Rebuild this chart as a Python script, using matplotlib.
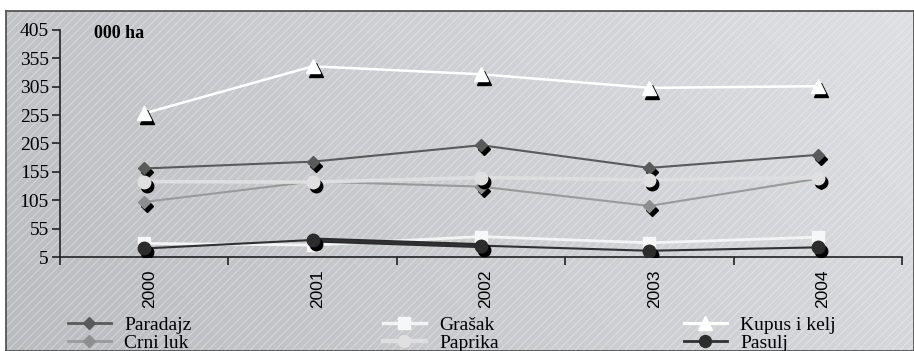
import matplotlib
matplotlib.use("Agg")
import matplotlib.pyplot as plt
import numpy as np
from matplotlib.lines import Line2D
from matplotlib.patches import Rectangle
from matplotlib.transforms import offset_copy, ScaledTranslation

years = ["2000", "2001", "2002", "2003", "2004"]
paradajz = [161, 173, 202, 162, 185]
crni_luk = [102, 138, 129, 95, 143]
grasak = [29, 26, 41, 30, 40]
paprika = [138, 137, 145, 141, 145]
kupus = [258, 341, 327, 303, 306]
pasulj = [20, 35, 25, 16, 22]

yticks = list(range(5, 406, 50))

# name, values, line color, marker, marker color, line width, marker size, shadow
series = [
    ("Paradajz", paradajz, "#5a5a5a", "D", "#5a5a5a", 1.5, 6.5, True),
    ("Crni luk", crni_luk, "#9a9a9a", "D", "#8e8e8e", 1.5, 6.5, True),
    ("Grašak", grasak, "#f4f4f4", "s", "#f7f7f7", 2.0, 8.5, False),
    ("Paprika", paprika, "#dedede", "o", "#e0e0e0", 2.6, 9.0, True),
    ("Kupus i kelj", kupus, "#ffffff", "^", "#ffffff", 1.8, 10.5, True),
    ("Pasulj", pasulj, "#303030", "o", "#2c2c2c", 1.5, 9.0, True),
]

plt.rcParams["hatch.linewidth"] = 0.7

fig = plt.figure(figsize=(9.14, 3.51), dpi=100, facecolor="white")

# grey gradient panel with fine diagonal stripes
bg = fig.add_axes([6 / 914, 0, 1 - 6 / 914, 340 / 351], zorder=0)
gx = np.linspace(0, 1, 400)
gy = np.linspace(0, 1, 100)
g = 0.62 * gx[None, :] + 0.38 * gy[::-1][:, None] * 0.5 + 0.1
left_c = np.array([182, 183, 187]) / 255
right_c = np.array([226, 227, 230]) / 255
img = left_c + (right_c - left_c) * np.clip(g, 0, 1)[..., None]
bg.imshow(img, extent=(0, 1, 0, 1), aspect="auto", interpolation="bilinear")
bg.add_patch(Rectangle((0, 0), 1, 1, transform=bg.transAxes, fill=False,
                       hatch="////", edgecolor="white", lw=0, alpha=0.35))
bg.set_xlim(0, 1)
bg.set_ylim(0, 1)
bg.set_xticks([])
bg.set_yticks([])
for sp in bg.spines.values():
    sp.set_color("#555555")
    sp.set_linewidth(1.3)

ax = fig.add_axes([60 / 914, 1 - 257 / 351, 842 / 914, 227 / 351], zorder=2)
ax.set_facecolor("none")

x = np.arange(len(years))
shadow = offset_copy(ax.transData, fig=fig, x=3, y=-4, units="dots")

for i, (name, vals, lc, mk, mc, lw, ms, shad) in enumerate(series):
    z = 3 + i * 3
    ax.plot(x, vals, color=lc, lw=lw, zorder=z, solid_capstyle="butt")
    if shad:
        ax.plot(x, vals, ls="none", marker=mk, ms=ms, color="black",
                mec="black", transform=shadow, zorder=z + 1)
    ax.plot(x, vals, ls="none", marker=mk, ms=ms, color=mc, mec=mc, zorder=z + 2)

# heavier stroke on the bean line between 2001 and 2002
ax.plot(x[1:3], pasulj[1:3], color="#2a2a2a", lw=3.6, zorder=17,
        solid_capstyle="butt")

ax.set_xlim(-0.5, len(years) - 0.5)
ax.set_ylim(5, 405)
ax.set_yticks(yticks)
ax.set_yticklabels([str(t) for t in yticks], family="Liberation Serif", fontsize=14)
ax.set_xticks(x)
ax.set_xticklabels(years, rotation=90, family="Liberation Sans", fontsize=12.5,
                   va="top")
ax.set_xticks(np.arange(-0.5, len(years)), minor=True)
ax.tick_params(axis="x", which="major", length=0, pad=9)
ax.tick_params(axis="x", which="minor", length=6, width=1.2, color="#222222",
               direction="out")
ax.tick_params(axis="y", length=6, width=1.2, color="#222222", pad=2)
for lab in ax.get_xticklabels():
    lab.set_transform(lab.get_transform() + ScaledTranslation(5 / 100, 0, fig.dpi_scale_trans))
for side in ("top", "right"):
    ax.spines[side].set_visible(False)
for side in ("left", "bottom"):
    ax.spines[side].set_color("#222222")
    ax.spines[side].set_linewidth(1.2)

fig.text(94 / 914, 1 - 33 / 351, "000 ha", family="Liberation Serif",
         fontweight="bold", fontsize=13, va="center", ha="left")

# legend in three columns of two
handles = [Line2D([], [], color=lc, lw=lw + 0.5, marker=mk, ms=ms * 0.95, mfc=mc, mec=mc)
           for (_, _, lc, mk, mc, lw, ms, _) in series]
names = [s[0] for s in series]
col_x = [68, 383, 684]
for c in range(3):
    leg = fig.legend(handles[2 * c:2 * c + 2], names[2 * c:2 * c + 2],
                     loc="center left", bbox_to_anchor=(col_x[c] / 914, 1 - 334 / 351),
                     frameon=False, borderpad=0, borderaxespad=0,
                     handlelength=2.2, handletextpad=0.7, labelspacing=0.0,
                     prop={"family": "Liberation Serif", "size": 14})

fig.savefig("out.png", dpi=100, facecolor="white")
